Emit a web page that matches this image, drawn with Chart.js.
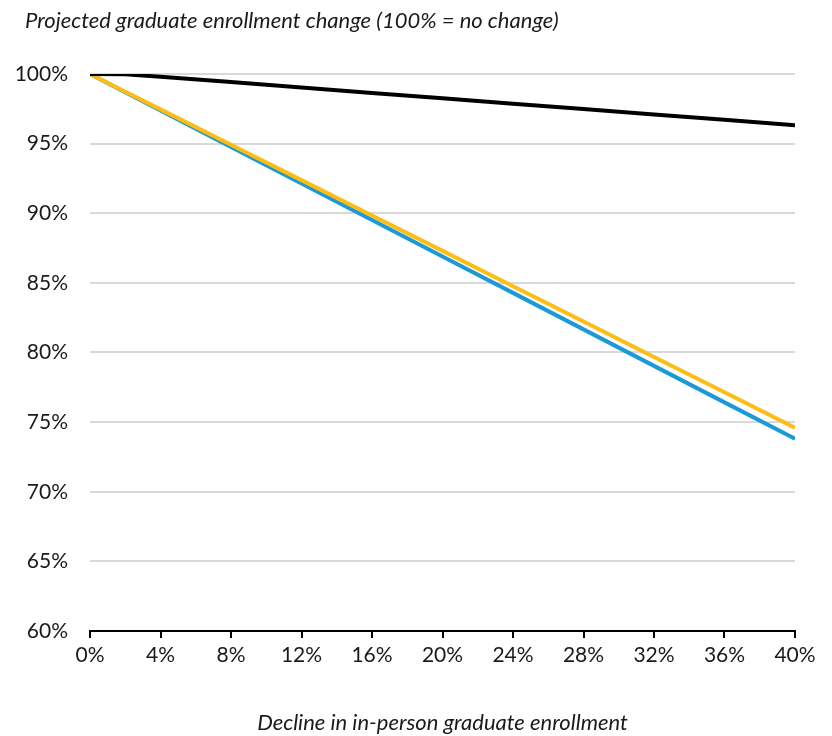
<!DOCTYPE html>
<html>
<head>
<meta charset="utf-8">
<script src="https://cdn.jsdelivr.net/npm/chart.js@4.4.1/dist/chart.umd.min.js"></script>
<style>
  html, body { margin: 0; padding: 0; background: #ffffff; }
  #wrap { width: 832px; height: 736px; position: relative; }
</style>
</head>
<body>
<div id="wrap"><canvas id="chart" width="832" height="736"></canvas></div>
<script>
// Decline in in-person graduate enrollment (share)
const declineSteps = [0, 0.02, 0.04, 0.08, 0.12, 0.16, 0.20, 0.24, 0.28, 0.32, 0.36, 0.40];

// Projected total graduate enrollment (share of baseline)
const blackSeries  = [1.000, 0.9998, 0.9980, 0.9942, 0.9903, 0.9864, 0.9826, 0.9787, 0.9748, 0.9710, 0.9671, 0.9632];
const blueSeries   = [1.000, 0.9869, 0.9738, 0.9476, 0.9214, 0.8952, 0.8690, 0.8428, 0.8166, 0.7904, 0.7642, 0.7380];
const yellowSeries = [1.000, 0.9873, 0.9746, 0.9492, 0.9238, 0.8984, 0.8730, 0.8476, 0.8222, 0.7968, 0.7714, 0.7460];

const xTickValues = [0, 0.04, 0.08, 0.12, 0.16, 0.20, 0.24, 0.28, 0.32, 0.36, 0.40];
const yTickValues = [0.60, 0.65, 0.70, 0.75, 0.80, 0.85, 0.90, 0.95, 1.00];

const toPoints = vals => declineSteps.map((x, i) => ({ x: x, y: vals[i] }));
const pct = v => Math.round(v * 100) + '%';

const headingPlugin = {
  id: 'heading',
  afterDraw(chart) {
    const ctx = chart.ctx;
    ctx.save();
    ctx.font = 'italic 22px Lato';
    ctx.fillStyle = '#1a1a1a';
    ctx.textAlign = 'left';
    ctx.textBaseline = 'middle';
    ctx.fillText('Projected graduate enrollment change (100% = no change)', 25, 21);
    ctx.restore();
  }
};

new Chart(document.getElementById('chart'), {
  type: 'scatter',
  data: {
    datasets: [
      { label: 'Total', data: toPoints(blackSeries), borderColor: '#000000', borderWidth: 4, order: 1 },
      { label: 'Scenario A', data: toPoints(blueSeries), borderColor: '#1b9ad7', borderWidth: 4, order: 3 },
      { label: 'Scenario B', data: toPoints(yellowSeries), borderColor: '#fdbd14', borderWidth: 4, order: 2 }
    ].map(d => Object.assign(d, { showLine: true, pointRadius: 0, pointHoverRadius: 0, tension: 0, fill: false }))
  },
  plugins: [headingPlugin],
  options: {
    responsive: false,
    animation: false,
    layout: { padding: { top: 74, right: 37, left: 0, bottom: 0 } },
    plugins: { legend: { display: false }, tooltip: { enabled: false } },
    scales: {
      x: {
        type: 'linear',
        min: 0,
        max: 0.40,
        afterBuildTicks(scale) { scale.ticks = xTickValues.map(v => ({ value: v })); },
        afterFit(scale) { scale.height = 105; },
        border: { display: true, color: '#000000', width: 2 },
        grid: { display: true, drawOnChartArea: false, drawTicks: true, tickLength: 7, color: '#000000', lineWidth: 2 },
        ticks: { callback: v => pct(v), font: { family: 'Lato', size: 21 }, color: '#1a1a1a', padding: 5, maxRotation: 0, autoSkip: false },
        title: { display: true, text: 'Decline in in-person graduate enrollment', font: { family: 'Lato', size: 22, style: 'italic' }, color: '#1a1a1a', padding: { top: 30, bottom: 0 } }
      },
      y: {
        min: 0.60,
        max: 1.00,
        afterBuildTicks(scale) { scale.ticks = yTickValues.map(v => ({ value: v })); },
        afterFit(scale) { scale.width = 90; },
        border: { display: false },
        grid: { color: '#d9d9d9', lineWidth: 2, drawTicks: false },
        ticks: { callback: v => pct(v), font: { family: 'Lato', size: 21 }, color: '#1a1a1a', padding: 22 }
      }
    }
  }
});
</script>
</body>
</html>
